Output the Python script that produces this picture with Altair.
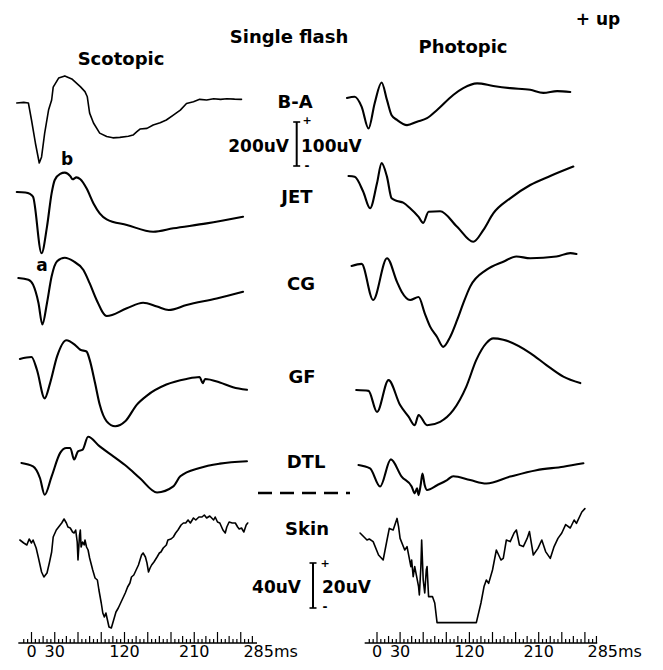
import altair as alt
import pandas as pd

# ---------------- data: time (ms) and amplitude (uV) ----------------
# Scotopic
SCOT_BA_T = [-19, -10, -4, 0, 5, 10, 13, 17, 22, 26, 28, 35, 43, 52, 63, 69, 72, 75, 80, 88, 97, 105, 114, 125, 131, 136, 140, 149, 157, 166, 174, 183, 192, 200, 209, 217, 226, 235, 244, 252, 262, 271]
SCOT_BA_A = [0, 3, 0, -79, -186, -279, -251, -140, -33, 14, 74, 116, 126, 112, 76, 53, 29, -47, -93, -140, -156, -162, -160, -155, -149, -133, -121, -118, -102, -92, -79, -56, -33, -2, 6, 17, 14, 20, 17, 20, 18, 17]
SCOT_JET_T = [-19, -8, -2, 2, 13, 20, 26, 30, 37, 43, 50, 53, 58, 63, 71, 80, 88, 97, 123, 157, 183, 226, 273]
SCOT_JET_A = [0, -2, -9, -22, -285, -161, -5, 56, 84, 90, 74, 59, 68, 59, 17, -53, -99, -127, -153, -185, -169, -146, -115]
SCOT_CG_T = [-17, -4, 2, 9, 14, 20, 26, 33, 43, 54, 67, 75, 84, 97, 123, 144, 162, 177, 200, 239, 273]
SCOT_CG_A = [0, -8, -31, -116, -216, -116, 8, 78, 94, 78, 37, -24, -102, -177, -141, -115, -133, -149, -126, -95, -64]
SCOT_GF_T = [-15, 0, 7, 17, 24, 33, 45, 56, 63, 71, 75, 82, 88, 97, 108, 121, 136, 149, 174, 200, 217, 221, 224, 243, 260, 278]
SCOT_GF_A = [0, 9, -50, -183, -112, 12, 87, 66, 43, 35, -3, -112, -212, -290, -313, -290, -212, -170, -119, -93, -84, -112, -93, -109, -131, -143]
SCOT_DTL_T = [-13, 2, 11, 17, 26, 37, 45, 50, 55, 60, 66, 73, 88, 106, 123, 140, 162, 183, 192, 217, 243, 278]
SCOT_DTL_A = [0, -16, -71, -148, -62, 47, 70, 70, 16, 54, 62, 122, 77, 30, -16, -71, -137, -109, -62, -23, -3, 8]
SCOT_SKIN_T = [-15, -10, -6, -3, 0, 2, 6, 9, 13, 16,
               20, 23, 26, 28, 32, 35, 39, 42, 45, 47,
               50, 53, 55, 57, 59, 60, 62, 63, 64, 66,
               68, 69, 71, 73, 75, 79, 82, 85, 87, 90,
               92, 94, 96, 98, 100, 103, 106, 109, 112, 115,
               118, 121, 124, 127, 129, 132, 135, 138, 140, 142,
               144, 147, 149, 151, 153, 155, 158, 162, 165, 167,
               170, 174, 176, 180, 183, 186, 189, 193, 196, 199,
               202, 205, 209, 212, 216, 220, 223, 226, 230, 235,
               237, 240, 243, 247, 250, 252, 255, 259, 263, 266,
               268, 271, 274, 277, 279]
SCOT_SKIN_A = [0, -3, -5, 1, -3, 0, -8, -18, -32, -37,
               -33, -23, -12, 3, 10, 13, 17, 21, 17, 13,
               12, 8, 7, 10, -2, -20, 5, 10, -7, -2,
               -5, 0, -7, -10, -18, -30, -38, -40, -50, -63,
               -73, -77, -73, -80, -87, -88, -80, -72, -68, -63,
               -58, -53, -47, -43, -37, -35, -30, -25, -20, -15,
               -13, -17, -23, -32, -28, -25, -22, -17, -13, -12,
               -8, -5, 0, 1, 3, 7, 10, 15, 17, 17,
               20, 17, 22, 20, 23, 23, 25, 22, 24, 20,
               23, 18, 17, 10, 7, 13, 18, 17, 17, 13,
               11, 12, 8, 15, 17]

# Photopic
PHOT_BA_T = [-39, -29, -20, -11, -3, 6, 13, 19, 26, 39, 52, 65, 78, 99, 112, 130, 151, 173, 199, 216, 234, 251]
PHOT_BA_A = [0, 3, -20, -71, -12, 36, -5, -40, -51, -63, -55, -47, -28, 7, 23, 34, 28, 23, 19, 12, 16, 14]
PHOT_JET_T = [-37, -29, -18, -9, 0, 6, 13, 19, 26, 34, 43, 54, 60, 67, 82, 104, 125, 138, 151, 173, 199, 225, 255]
PHOT_JET_A = [0, -2, -36, -75, -17, 30, -2, -52, -58, -62, -75, -95, -109, -83, -82, -118, -153, -126, -87, -52, -21, 0, 22]
PHOT_CG_T = [-33, -20, -5, 13, 26, 32, 43, 54, 62, 69, 78, 86, 95, 104, 112, 121, 142, 164, 181, 199, 233, 251, 259]
PHOT_CG_A = [0, 5, -79, 18, -37, -60, -79, -72, -110, -141, -165, -188, -165, -126, -87, -48, -9, 10, 22, 18, 22, 30, 28]
PHOT_GF_T = [-27, -11, 0, 15, 30, 41, 49, 54, 65, 82, 99, 116, 129, 142, 151, 164, 199, 220, 242, 264]
PHOT_GF_A = [0, -2, -51, 23, -35, -62, -82, -58, -82, -74, -47, 8, 70, 109, 120, 117, 86, 58, 31, 16]
PHOT_DTL_T = [-24, -9, 4, 18, 32, 45, 49, 52, 54, 57, 59, 62, 65, 78, 91, 99, 121, 142, 173, 207, 242, 268]
PHOT_DTL_A = [0, -8, -50, 13, -27, -50, -66, -54, -70, -43, -20, -47, -58, -47, -35, -26, -35, -43, -27, -12, -4, 4]
PHOT_SKIN_T = [-22, -13, -10, -5, 2, 8, 13, 16, 21, 26, 28, 30, 36, 39, 44, 45, 47, 49, 54, 55, 57, 58, 60, 62, 64, 65, 67, 72, 75, 78, 129, 135, 139, 142, 145, 150, 155, 161, 164, 168, 173, 178, 181, 185, 190, 195, 198, 203, 209, 214, 219, 225, 230, 235, 240, 245, 251, 256, 259, 266, 270]
PHOT_SKIN_A = [0, -3.5, -3, -4.3, -11, -13.5, -3.5, 2.3, 1.5, 7.3, 3.2, -2.7, -8.5, -6.8, -16.8, -13.5, -21.8, -16.8, -26.8, -31, -16.8, -3.5, -23.5, -30, -18.5, -16.8, -31.8, -31.8, -35, -44.8, -44.8, -35, -26.8, -23.5, -25.2, -18.5, -8.5, -13.5, -12.7, -3.5, -4.3, 0, 1.5, -6, -6.8, -2.7, 0.7, -11, -7.7, -3.5, -9.3, -12.7, -6.8, -2.7, 0, 4.2, 2.5, 6.5, 4.8, 10.5, 12.2]

TRACE_NAMES = ["B-A", "JET", "CG", "GF", "DTL", "Skin"]
PANEL_TITLES = ["Scotopic", "Photopic"]
HEADER = ["Single flash", "+ up"]
SCALE_LABELS = ["200uV", "100uV", "40uV", "20uV"]
TICK_TIMES = [0, 30, 120, 210]
TICK_LABELS = ["0", "30", "120", "210"]
END_TIME = 285
END_LABEL = "285ms"
WAVE_LABELS = ["a", "b"]

SCOTOPIC = {"B-A": (SCOT_BA_T, SCOT_BA_A), "JET": (SCOT_JET_T, SCOT_JET_A), "CG": (SCOT_CG_T, SCOT_CG_A),
            "GF": (SCOT_GF_T, SCOT_GF_A), "DTL": (SCOT_DTL_T, SCOT_DTL_A), "Skin": (SCOT_SKIN_T, SCOT_SKIN_A)}
PHOTOPIC = {"B-A": (PHOT_BA_T, PHOT_BA_A), "JET": (PHOT_JET_T, PHOT_JET_A), "CG": (PHOT_CG_T, PHOT_CG_A),
            "GF": (PHOT_GF_T, PHOT_GF_A), "DTL": (PHOT_DTL_T, PHOT_DTL_A), "Skin": (PHOT_SKIN_T, PHOT_SKIN_A)}

# ---------------- layout (page pixels) ----------------
LAYOUT = {
    "Scotopic": dict(x0=31.5, k=0.775, base=[103, 192, 278, 359, 463, 540], gain=0.215, skin_gain=1.0,
                     axis=(-17, 291)),
    "Photopic": dict(x0=377.0, k=0.77, base=[98, 176, 266, 390, 465, 533], gain=0.43, skin_gain=2.0,
                     axis=(-16, 286)),
}
AXIS_Y = 643
TICK_TEXT_Y = 657

rows = []
for panel, traces in (("Scotopic", SCOTOPIC), ("Photopic", PHOTOPIC)):
    L = LAYOUT[panel]
    for j, name in enumerate(TRACE_NAMES):
        ts, amps = traces[name]
        g = L["skin_gain"] if name == "Skin" else L["gain"]
        raw = name == "Skin" or (name == "B-A" and panel == "Scotopic")
        for i, (t, a) in enumerate(zip(ts, amps)):
            rows.append(dict(key=f"{panel}-{name}", i=i, x=L["x0"] + L["k"] * t,
                             y=L["base"][j] - g * a, style="raw" if raw else "avg"))
df = pd.DataFrame(rows)

XS = alt.Scale(domain=[8, 655], nice=False, zero=False)
YS = alt.Scale(domain=[8, 662], nice=False, zero=False, reverse=True)


def xe(f="x"):
    return alt.X(f"{f}:Q", scale=XS, axis=None)


def ye(f="y"):
    return alt.Y(f"{f}:Q", scale=YS, axis=None)


avg = alt.Chart(df[df["style"] == "avg"]).mark_line(
    color="black", strokeWidth=2.1, strokeJoin="round", strokeCap="round", interpolate="monotone"
).encode(x=xe(), y=ye(), detail="key:N", order="i:Q")

raw = alt.Chart(df[df["style"] == "raw"]).mark_line(
    color="black", strokeWidth=1.6, strokeJoin="round", strokeCap="round"
).encode(x=xe(), y=ye(), detail="key:N", order="i:Q")

# ---------------- rules: axes, scale bars ----------------
rules = []
for panel in PANEL_TITLES:
    L = LAYOUT[panel]
    a0, a1 = L["axis"]
    rules.append(dict(x=L["x0"] + L["k"] * a0, x2=L["x0"] + L["k"] * a1, y=AXIS_Y, y2=AXIS_Y, w=1.6))
    for t in range(-10, 290, 5):
        h = 11 if t % 30 == 0 else (7 if t % 15 == 0 else 4)
        xx = L["x0"] + L["k"] * t
        rules.append(dict(x=xx, x2=xx, y=AXIS_Y, y2=AXIS_Y - h, w=1.2))
# scale bars
for (bx, by0, by1) in [(296.7, 122, 166), (313, 563, 608)]:
    rules.append(dict(x=bx, x2=bx, y=by0, y2=by1, w=2.0))
    rules.append(dict(x=bx - 3.5, x2=bx + 3.5, y=by0, y2=by0, w=1.6))
    rules.append(dict(x=bx - 3.5, x2=bx + 3.5, y=by1, y2=by1, w=1.6))
rdf = pd.DataFrame(rules)
rule_layer = alt.Chart(rdf).mark_rule(color="black").encode(
    x=xe(), x2="x2:Q", y=ye(), y2="y2:Q", strokeWidth=alt.StrokeWidth("w:Q", scale=None))

dash = alt.Chart(pd.DataFrame([dict(x=258, x2=350, y=493, y2=493)])).mark_rule(
    color="black", strokeWidth=2.5, strokeDash=[14, 8]
).encode(x=xe(), x2="x2:Q", y=ye(), y2="y2:Q")

# ---------------- texts ----------------
bold_center = pd.DataFrame([
    dict(x=121, y=65, text=PANEL_TITLES[0], size=18),
    dict(x=289, y=43, text=HEADER[0], size=18),
    dict(x=463, y=53, text=PANEL_TITLES[1], size=18),
    dict(x=598, y=25, text=HEADER[1], size=17),
    dict(x=295, y=108, text=TRACE_NAMES[0], size=18),
    dict(x=297, y=203, text=TRACE_NAMES[1], size=18),
    dict(x=301, y=290, text=TRACE_NAMES[2], size=18),
    dict(x=302, y=383, text=TRACE_NAMES[3], size=18),
    dict(x=306, y=468, text=TRACE_NAMES[4], size=18),
    dict(x=307, y=535, text=TRACE_NAMES[5], size=18),
    dict(x=67, y=165, text=WAVE_LABELS[1], size=17),
    dict(x=42, y=271, text=WAVE_LABELS[0], size=17),
])
bold_right = pd.DataFrame([
    dict(x=289, y=152, text=SCALE_LABELS[0], size=17),
    dict(x=301, y=593, text=SCALE_LABELS[2], size=17),
])
bold_left = pd.DataFrame([
    dict(x=301, y=152, text=SCALE_LABELS[1], size=17),
    dict(x=322, y=593, text=SCALE_LABELS[3], size=17),
])
signs = pd.DataFrame([
    dict(x=307, y=121, text="+", size=11),
    dict(x=307, y=166, text="-", size=12),
    dict(x=325, y=564, text="+", size=11),
    dict(x=325, y=607, text="-", size=12),
])
tick_rows = []
tick_end = []
for panel in PANEL_TITLES:
    L = LAYOUT[panel]
    for t, lab in zip(TICK_TIMES, TICK_LABELS):
        tick_rows.append(dict(x=L["x0"] + L["k"] * t, y=TICK_TEXT_Y, text=lab, size=16))
    tick_end.append(dict(x=L["x0"] + L["k"] * END_TIME - 9, y=TICK_TEXT_Y, text=END_LABEL, size=16))


def text_layer(data, align, weight, baseline="alphabetic"):
    return alt.Chart(pd.DataFrame(data)).mark_text(
        align=align, baseline=baseline, font="DejaVu Sans", fontWeight=weight, color="black"
    ).encode(x=xe(), y=ye(), text="text:N", size=alt.Size("size:Q", scale=None))


layers = [
    rule_layer, dash, raw, avg,
    text_layer(bold_center, "center", "bold"),
    text_layer(bold_right, "right", "bold"),
    text_layer(bold_left, "left", "bold"),
    text_layer(signs, "center", "bold", baseline="middle"),
    text_layer(tick_rows, "center", "normal"),
    text_layer(tick_end, "left", "normal"),
]

chart = alt.layer(*layers).properties(
    width=647, height=654, padding=0, autosize=alt.AutoSizeParams(type="none")
).configure_view(stroke=None)

chart.save("out.html", embed_options={"renderer": "svg", "actions": False})
